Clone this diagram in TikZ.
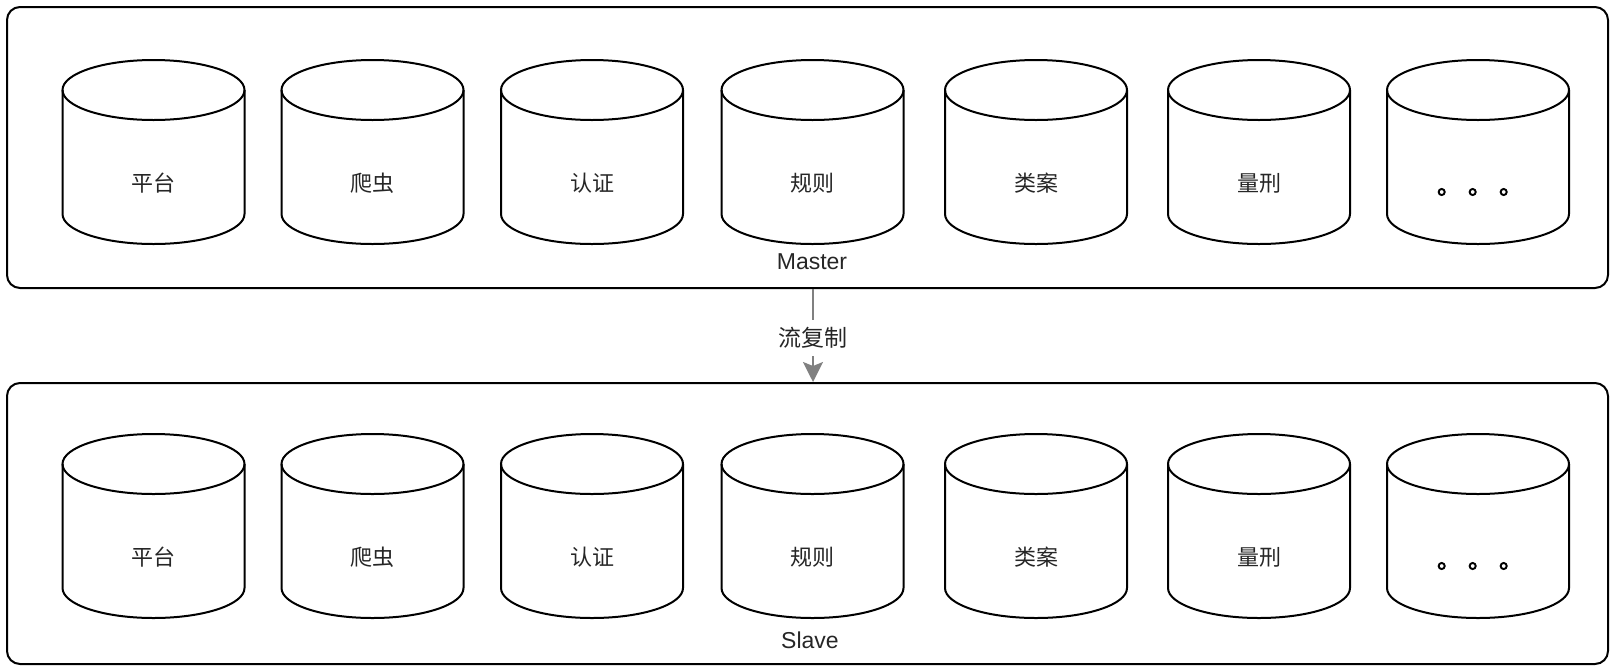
\documentclass[tikz,border=0pt]{standalone}
\usepackage{fontspec}
\setmainfont{Liberation Sans}
\newfontfamily\cjk{Noto Sans CJK SC}
\newfontfamily\cjkdots[FakeBold=3]{Noto Sans CJK SC}
\usetikzlibrary{arrows.meta}
\begin{document}
\begin{tikzpicture}[x=0.5pt,y=-0.5pt,
  box/.style={draw=black, line width=1pt, rounded corners=6.5pt, minimum width=800.5pt, minimum height=140.5pt, inner sep=0pt},
  dbline/.style={draw=black, line width=1pt},
  lbl/.style={font=\cjk\fontsize{11}{13}\selectfont, text=black!85, inner sep=0pt},
  dots/.style={font=\cjkdots\fontsize{12}{13}\selectfont, text=black, inner sep=0pt, anchor=center},
  title/.style={font=\fontsize{11.5}{13}\selectfont, text=black!85, inner sep=0pt},
  flowline/.style={draw=black!50, line width=1pt, -{Stealth[length=10pt,width=10pt,inset=2pt]}},
  flowlbl/.style={font=\cjk\fontsize{11.5}{13}\selectfont, text=black!85, fill=white, inner xsep=1pt, inner ysep=3.5pt}]
\useasboundingbox (0,0) rectangle (1610,665);
\node[box] (mbox) at (807.5,147.5) {};
\node[box] (sbox) at (807.5,523.5) {};
\foreach \row/\yoff in {m/0, s/374} {
  \foreach \i/\cx/\t in {1/153.5/平台, 2/372.5/爬虫, 3/592/认证, 4/812.5/规则, 5/1036/类案, 6/1259/量刑, 7/1478/{}} {
    \draw[dbline] (\cx,90+\yoff) ellipse[x radius=91, y radius=30];
    \draw[dbline] (\cx-91,90+\yoff) -- (\cx-91,214+\yoff)
      arc[start angle=180, end angle=0, x radius=91, y radius=30] -- (\cx+91,90+\yoff);
    \node[lbl] (\row\i) at (\cx,183+\yoff) {\t};
  }
}
\node[dots] (mdots) at (1480,192) {。\hspace{3.5pt}。\hspace{3.5pt}。};
\node[dots] (sdots) at (1480,566) {。\hspace{3.5pt}。\hspace{3.5pt}。};
\node[title] (master) at (812,262) {Master};
\node[title] (slave) at (810,640) {Slave};
\coordinate (fx) at (813,338);
\draw[flowline] (mbox.south -| fx) -- (sbox.north -| fx);
\node[flowlbl] (flow) at (fx) {流复制};
\end{tikzpicture}
\end{document}
